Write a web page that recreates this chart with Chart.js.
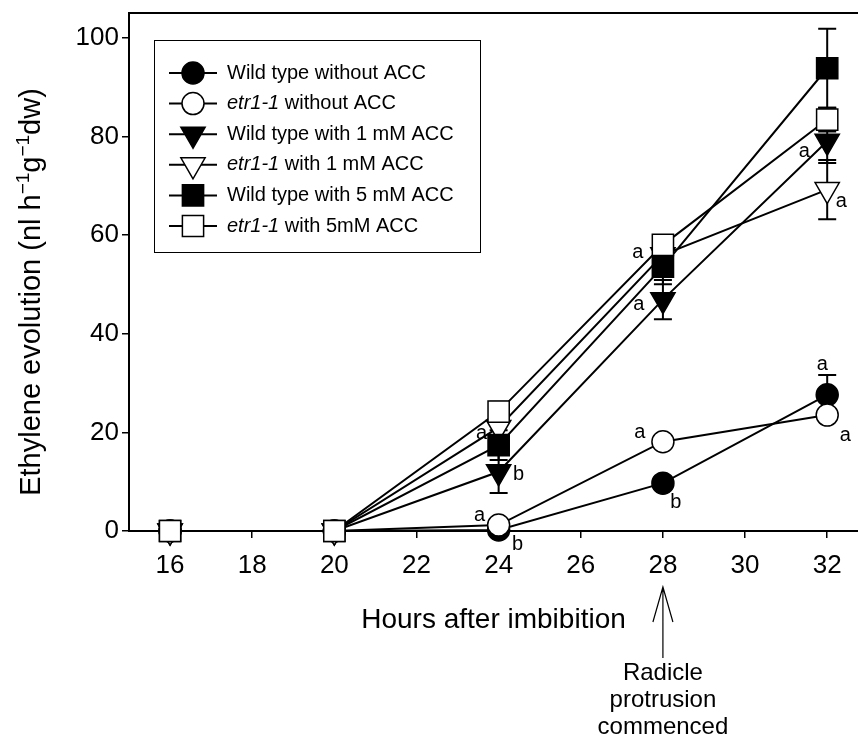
<!DOCTYPE html>
<html>
<head>
<meta charset="utf-8">
<script src="https://cdn.jsdelivr.net/npm/chart.js@4.4.0/dist/chart.umd.min.js"></script>
<style>
  html, body { margin: 0; padding: 0; background: #fff; }
  #wrap { width: 858px; height: 739px; }
</style>
</head>
<body>
<div id="wrap"><canvas id="ethylene-chart" width="858" height="739"></canvas></div>
<script>
// hours after imbibition
const hours = [16, 20, 24, 28, 32];
const xTicks = [16, 18, 20, 22, 24, 26, 28, 30, 32];
const yTicks = [0, 20, 40, 60, 80, 100];

// ethylene evolution, nl h-1 g-1 dw
const wtNoAcc = [0, 0, 0.2, 9.7, 27.6];
const etrNoAcc = [0, 0, 1.2, 18.1, 23.5];
const wt1mM = [0, 0, 12.0, 46.9, 79.0];
const etr1mM = [0, 0, 21.0, 56.0, 69.2];
const wt5mM = [0, 0, 17.4, 53.6, 93.8];
const etr5mM = [0, 0, 24.2, 58.0, 83.4];

// error bars
const wtNoAccErr = [0.3, 0.3, 0.5, 1.0, 4.0];
const etrNoAccErr = [0.3, 0.3, 0.5, 0.8, 1.0];
const wt1mMErr = [0.5, 0.5, 4.3, 4.0, 4.4];
const etr1mMErr = [0.5, 0.5, 2.0, 3.0, 6.0];
const wt5mMErr = [0.5, 0.5, 3.0, 3.6, 8.0];
const etr5mMErr = [0.6, 0.6, 2.0, 1.5, 2.4];

// significance letters
const wtNoAccLetters = ['', '', 'b', 'b', 'a'];
const etrNoAccLetters = ['', '', 'a', 'a', 'a'];
const wt1mMLetters = ['', '', 'b', 'a', 'a'];
const etr1mMLetters = ['', '', 'a', 'a', 'a'];
const wt5mMLetters = ['', '', '', '', ''];
const etr5mMLetters = ['', '', '', '', ''];

const FONT = '"Liberation Sans", Arial, Helvetica, sans-serif';

const series = [
    { label: [['Wild type', false], [' without ACC', false]], values: wtNoAcc, err: wtNoAccErr, letters: wtNoAccLetters,
      style: 'circle', rotation: 0, radius: 11, fill: '#000' },
    { label: [['etr1-1', true], [' without ACC', false]], values: etrNoAcc, err: etrNoAccErr, letters: etrNoAccLetters,
      style: 'circle', rotation: 0, radius: 11, fill: '#fff' },
    { label: [['Wild type with 1 mM ACC', false]], values: wt1mM, err: wt1mMErr, letters: wt1mMLetters,
      style: 'triangle', rotation: 180, radius: 14, fill: '#000' },
    { label: [['etr1-1', true], [' with 1 mM ACC', false]], values: etr1mM, err: etr1mMErr, letters: etr1mMLetters,
      style: 'triangle', rotation: 180, radius: 14, fill: '#fff' },
    { label: [['Wild type with 5 mM ACC', false]], values: wt5mM, err: wt5mMErr, letters: wt5mMLetters,
      style: 'rect', rotation: 0, radius: 15, fill: '#000' },
    { label: [['etr1-1', true], [' with 5mM ACC', false]], values: etr5mM, err: etr5mMErr, letters: etr5mMLetters,
      style: 'rect', rotation: 0, radius: 15, fill: '#fff' },
];

// where each letter sits relative to its marker (series index -> point index -> [dx, dy])
const letterOffsets = {
    0: { 2: [19, 14], 3: [13, 19], 4: [-5, -30] },
    1: { 2: [-19, -10], 3: [-23, -9], 4: [18, 20] },
    2: { 2: [20, 3], 3: [-24, 5], 4: [-23, 10] },
    3: { 2: [-17, 6], 3: [-25, -2], 4: [14, 12] },
};

const errorBars = {
    id: 'errorBars',
    beforeDatasetsDraw(chart) {
        const ctx = chart.ctx;
        const y = chart.scales.y;
        ctx.save();
        ctx.strokeStyle = '#000';
        ctx.lineWidth = 2;
        series.forEach((s, i) => {
            const meta = chart.getDatasetMeta(i);
            meta.data.forEach((pt, j) => {
                const e = s.err[j];
                if (!e) return;
                const top = y.getPixelForValue(s.values[j] + e);
                const bot = y.getPixelForValue(s.values[j] - e);
                ctx.beginPath();
                ctx.moveTo(pt.x, top); ctx.lineTo(pt.x, bot);
                ctx.moveTo(pt.x - 9, top); ctx.lineTo(pt.x + 9, top);
                ctx.moveTo(pt.x - 9, bot); ctx.lineTo(pt.x + 9, bot);
                ctx.stroke();
            });
        });
        ctx.restore();
    }
};

function drawParts(ctx, parts, x, y, size) {
    let cx = x;
    parts.forEach(([text, italic]) => {
        ctx.font = (italic ? 'italic ' : '') + size + 'px ' + FONT;
        ctx.fillText(text, cx, y);
        cx += ctx.measureText(text).width;
    });
}

const extras = {
    id: 'extras',
    afterDraw(chart) {
        const ctx = chart.ctx;
        const area = chart.chartArea;
        const xs = chart.scales.x;
        ctx.save();
        ctx.fillStyle = '#000';
        ctx.strokeStyle = '#000';

        // top frame line
        ctx.lineWidth = 2;
        ctx.beginPath();
        ctx.moveTo(area.left, area.top);
        ctx.lineTo(area.right, area.top);
        ctx.stroke();

        // significance letters
        ctx.font = '20px ' + FONT;
        ctx.textAlign = 'center';
        ctx.textBaseline = 'middle';
        series.forEach((s, i) => {
            const meta = chart.getDatasetMeta(i);
            s.letters.forEach((l, j) => {
                if (!l) return;
                const off = (letterOffsets[i] && letterOffsets[i][j]) || [0, 0];
                const pt = meta.data[j];
                ctx.fillText(l, pt.x + off[0], pt.y + off[1]);
            });
        });

        // legend
        ctx.lineWidth = 1;
        ctx.strokeRect(154.5, 40.5, 326, 212);
        ctx.textAlign = 'left';
        series.forEach((s, i) => {
            const ly = 73 + i * 30.6;
            ctx.lineWidth = 2;
            ctx.beginPath();
            ctx.moveTo(169, ly); ctx.lineTo(217, ly);
            ctx.stroke();
            ctx.fillStyle = s.fill;
            ctx.lineWidth = 1.5;
            Chart.helpers.drawPoint(ctx, {
                pointStyle: s.style, radius: s.radius, rotation: s.rotation, borderWidth: 1.5
            }, 193, ly);
            ctx.fillStyle = '#000';
            drawParts(ctx, s.label, 227, ly, 20);
        });

        // y axis title with superscripts
        ctx.save();
        ctx.translate(30, 292);
        ctx.rotate(-Math.PI / 2);
        const yParts = [['Ethylene evolution (nl h', 29, 0], ['\u22121', 19, -11], ['g', 29, 0], ['\u22121', 19, -11], ['dw)', 29, 0]];
        let total = 0;
        yParts.forEach(([t, sz]) => { ctx.font = sz + 'px ' + FONT; total += ctx.measureText(t).width; });
        let cx = -total / 2;
        ctx.textAlign = 'left';
        ctx.textBaseline = 'alphabetic';
        yParts.forEach(([t, sz, dy]) => {
            ctx.font = sz + 'px ' + FONT;
            ctx.fillText(t, cx, 10 + dy);
            cx += ctx.measureText(t).width;
        });
        ctx.restore();

        // x axis title
        ctx.font = '28px ' + FONT;
        ctx.textAlign = 'center';
        ctx.textBaseline = 'middle';
        ctx.fillText('Hours after imbibition', (area.left + area.right) / 2, 620);

        // radicle protrusion arrow
        const ax = xs.getPixelForValue(28);
        ctx.lineWidth = 1.2;
        ctx.beginPath();
        ctx.moveTo(ax, 587); ctx.lineTo(ax, 658);
        ctx.moveTo(ax - 10, 622); ctx.lineTo(ax, 587); ctx.lineTo(ax + 10, 622);
        ctx.stroke();
        ctx.font = '24px ' + FONT;
        ctx.fillText('Radicle', ax, 673);
        ctx.fillText('protrusion', ax, 700);
        ctx.fillText('commenced', ax, 727);

        ctx.restore();
    }
};

const datasets = series.map((s, i) => ({
    label: s.label.map(p => p[0]).join(''),
    data: hours.map((h, j) => ({ x: h, y: s.values[j] })),
    borderColor: '#000',
    borderWidth: 2,
    pointStyle: s.style,
    pointRotation: s.rotation,
    pointRadius: s.radius,
    pointBackgroundColor: s.fill,
    pointBorderColor: '#000',
    pointBorderWidth: 1.5,
    tension: 0,
    clip: false,
    order: series.length - i,
}));

const ctx = document.getElementById('ethylene-chart').getContext('2d');
new Chart(ctx, {
    type: 'line',
    data: { datasets },
    plugins: [errorBars, extras],
    options: {
        responsive: false,
        animation: false,
        devicePixelRatio: 1,
        layout: { autoPadding: false, padding: { top: 13, right: 0, left: 0, bottom: 0 } },
        plugins: { legend: { display: false }, tooltip: { enabled: false } },
        scales: {
            x: {
                type: 'linear',
                min: 15,
                max: 32.75,
                afterBuildTicks: (s) => { s.ticks = xTicks.map(v => ({ value: v })); },
                afterFit: (s) => { s.height = 208; s.paddingLeft = 0; s.paddingRight = 0; },
                border: { color: '#000', width: 2 },
                grid: { drawOnChartArea: false, color: '#000', lineWidth: 1.5, tickLength: 7 },
                ticks: { color: '#000', font: { family: FONT, size: 26 }, padding: 12, maxRotation: 0 },
            },
            y: {
                min: 0,
                max: 105,
                afterBuildTicks: (s) => { s.ticks = yTicks.map(v => ({ value: v })); },
                afterFit: (s) => { s.width = 129; s.paddingTop = 0; s.paddingBottom = 0; },
                border: { color: '#000', width: 2 },
                grid: { drawOnChartArea: false, color: '#000', lineWidth: 1.5, tickLength: 7 },
                ticks: { color: '#000', font: { family: FONT, size: 26 }, padding: 3 },
            },
        },
    },
});
</script>
</body>
</html>
